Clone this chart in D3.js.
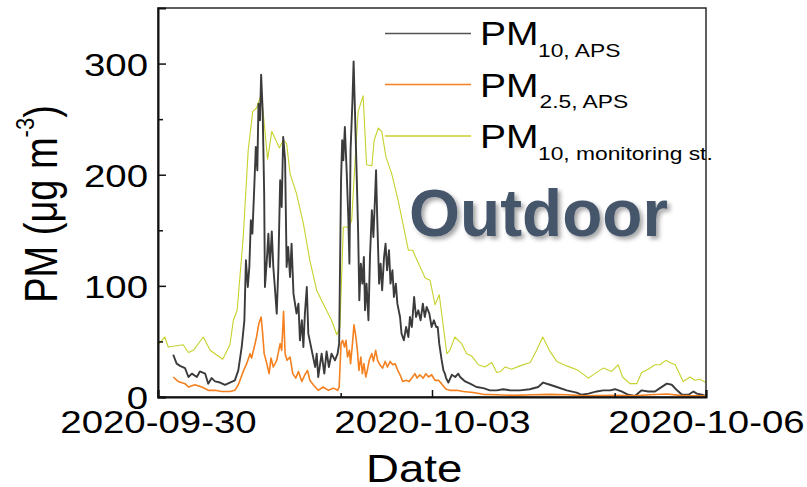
<!DOCTYPE html>
<html>
<head>
<meta charset="utf-8">
<script src="https://cdn.jsdelivr.net/npm/d3@7"></script>
<style>
  body { margin: 0; background: #fff; }
  text { font-family: "Liberation Sans", Arial, sans-serif; fill: #000; }
</style>
</head>
<body>
<svg id="chart" width="807" height="487"></svg>
<script>
// hours after 2020-09-30 00:00
var apsPm10Hours = [4.0,4.9,5.8,7.1,8.0,8.9,10.2,11.0,12.4,13.2,
  14.1,15.0,16.3,17.6,18.9,20.2,21.1,22.0,22.7,23.1,
  23.6,24.0,24.4,24.8,25.3,25.7,26.1,26.4,26.8,27.1,
  27.5,27.9,28.1,28.6,29.0,29.4,29.9,30.3,30.7,31.2,
  31.6,32.1,32.5,32.9,33.4,33.8,34.2,34.7,35.1,35.6,
  36.4,36.9,37.3,37.8,38.2,38.6,39.1,39.5,40.4,41.3,
  41.7,42.1,43.0,43.7,44.3,44.9,45.6,46.5,47.2,47.6,
  48.1,48.4,48.7,49.1,49.6,50.0,50.3,50.6,51.1,51.4,
  51.8,52.2,52.6,52.9,53.3,53.7,54.1,54.4,54.8,55.3,
  55.7,56.2,56.6,57.0,57.3,57.6,58.1,58.5,58.9,59.4,
  59.8,60.2,60.7,61.1,61.6,62.0,62.5,62.9,63.6,64.0,
  64.6,65.2,65.8,66.2,66.7,67.3,67.8,68.4,69.0,69.6,
  70.1,70.6,71.3,71.9,72.5,73.1,73.5,73.9,74.5,75.0,
  75.4,75.7,76.3,77.2,78.1,78.9,79.4,80.7,82.0,83.7,
  85.5,87.2,89.0,90.7,92.5,95.1,97.7,99.9,101.2,103.0,
  104.8,107.4,110.0,111.3,113.1,115.3,117.0,118.8,120.1,121.8,
  123.6,125.3,127.1,128.8,130.6,131.9,133.7,135.0,136.4,137.7,
  139.4,140.7,141.6,142.9,143.9];
var apsPm10 = [38,30,28,26,18,21,18,23,21,12,
  17,14,13,11,13,15,24,45,69,123,
  99,117,159,147,189,225,204,264,249,290,
  258,183,99,123,147,117,149,117,99,75,
  114,195,171,234,213,117,135,108,138,93,
  75,84,51,69,45,75,99,57,42,27,
  39,18,39,21,41,27,39,33,39,48,
  195,231,213,243,201,162,120,222,267,302,
  252,201,147,87,120,102,126,78,102,69,
  126,168,144,177,204,162,102,120,96,126,
  138,114,132,102,114,90,102,84,72,57,
  51,63,54,72,63,90,72,78,69,84,
  72,81,75,63,69,63,63,48,34,24,
  21,17,13,20,18,21,18,14,12,9,
  8,6,6,7,6,6,7,9,13,11,
  9,6,4,2,3,5,6,6,7,5,
  2,1,6,5,5,8,12,11,6,2,
  2,5,3,2,1];

var apsPm25Hours = [4.0,5.3,7.1,8.0,9.7,11.5,13.2,15.0,16.7,18.9,
  20.2,21.1,22.4,23.3,24.2,24.6,25.3,25.9,26.5,27.1,
  27.5,27.9,28.6,29.2,29.7,30.3,31.2,32.1,32.5,33.0,
  33.4,33.9,34.7,35.4,36.2,36.9,37.8,38.6,39.3,39.9,
  40.8,42.1,43.4,44.8,46.1,47.2,47.6,48.1,48.5,49.0,
  49.4,49.8,50.3,50.6,51.1,51.5,52.0,52.4,52.8,53.3,
  53.7,54.1,54.6,55.0,55.5,56.2,56.6,57.2,57.7,58.3,
  59.0,59.7,60.3,61.0,61.7,62.3,63.0,63.6,64.3,65.2,
  66.0,66.9,67.5,68.1,68.8,69.7,70.4,71.1,71.9,72.8,
  73.7,74.5,75.7,76.7,78.5,80.2,82.8,85.5,89.0,93.4,
  98.6,103.0,107.4,111.8,116.1,120.5,124.9,129.3,133.7,137.2,
  140.6,144.0];
var apsPm25 = [18,14,12,9,11,9,6,6,5,5,
  6,11,23,30,39,35,45,54,66,72,
  57,39,30,21,35,27,33,48,42,77,
  39,33,36,21,17,23,14,20,24,15,
  11,6,9,6,8,6,9,48,51,45,
  51,36,42,30,48,65,54,42,24,36,
  21,30,18,24,33,39,32,42,33,29,
  26,32,27,32,29,30,24,20,14,15,
  14,18,21,17,20,17,21,18,20,15,
  15,12,7,6,6,5,4,2.4,2,1.5,
  2,2.4,2,1,1.2,1.5,1,2,2.7,1.5,
  1,1];

var stationHours = [0,1.8,2.7,6.6,8.0,9.3,11.9,13.7,17.0,18.9,
  19.8,20.8,22.4,23.7,24.9,25.9,27.1,27.7,28.8,29.9,
  31.9,32.9,33.8,34.7,36.4,38.2,39.9,41.7,43.4,45.6,
  47.0,47.8,48.7,50.2,50.9,51.8,52.6,53.9,54.8,56.2,
  56.8,57.9,58.8,59.9,61.4,63.1,65.8,66.9,70.2,71.5,
  72.8,73.9,75.9,76.7,78.0,79.8,81.1,82.4,84.2,85.9,
  87.7,89.0,90.1,91.2,92.9,95.1,97.8,99.5,101.1,103.0,
  104.8,107.4,110.4,113.1,114.8,117.0,119.2,120.9,122.1,124.0,
  125.8,127.1,128.8,130.6,131.9,133.5,134.5,135.9,138.0,139.8,
  141.1,142.4,144.0];
var stationPm10 = [47,54,45,47,40,42,54,42,34,47,
  69,78,144,222,257,260,272,254,214,239,
  224,231,228,201,183,156,123,96,84,69,
  56,63,153,153,159,213,257,271,209,208,
  231,242,239,216,201,177,132,132,107,105,
  83,92,39,42,54,48,39,37,29,27,
  31,22,23,27,25,28,31,42,54,41,
  32,28,24,17,21,26,23,29,18,12,
  12,22,25,29,29,33,31,29,14,18,
  15,16,13];

var majorDates = ["2020-09-30", "2020-10-03", "2020-10-06"];
var minorDates = ["2020-10-02", "2020-10-05"];
var majorY = [0, 100, 200, 300];
var minorY = [50, 150, 250];

var SX = 1.2; // the reference text is stretched horizontally

var svg = d3.select("#chart");
svg.append("rect").attr("width", 807).attr("height", 487).attr("fill", "#fff");

var parseDay = d3.timeParse("%Y-%m-%d");
var t0 = parseDay("2020-09-30");
function toDate(h) { return new Date(t0.getTime() + h * 3600e3); }

var plotL = 158, plotR = 706, plotT = 8, plotB = 397;

var x = d3.scaleTime()
    .domain([t0, parseDay("2020-10-06")])
    .range([plotL, plotR]);
var y = d3.scaleLinear()
    .domain([0, 350])
    .range([plotB, plotT]);

var defs = svg.append("defs");
defs.append("clipPath").attr("id", "plotclip")
  .append("rect").attr("x", plotL).attr("y", plotT)
    .attr("width", plotR - plotL).attr("height", plotB - plotT);

var line = d3.line()
    .x(function(d) { return x(toDate(d[0])); })
    .y(function(d) { return y(d[1]); });

function pairs(hours, vals) { return hours.map(function(h, i) { return [h, vals[i]]; }); }

var series = [
  { data: pairs(stationHours, stationPm10), color: "#c6d22c", width: 1.1 },
  { data: pairs(apsPm10Hours, apsPm10), color: "#3b3b3b", width: 1.9 },
  { data: pairs(apsPm25Hours, apsPm25), color: "#f4801f", width: 1.6 }
];

var plot = svg.append("g").attr("clip-path", "url(#plotclip)");
series.forEach(function(s) {
  plot.append("path")
      .datum(s.data)
      .attr("fill", "none")
      .attr("stroke", s.color)
      .attr("stroke-width", s.width)
      .attr("stroke-linejoin", "round")
      .attr("d", line);
});

/* legend */
var legendRows = [
  { sub: "10, APS", color: "#555", width: 1.6, ly: 33.5, pm: 45, sy: 57, sx: 538 },
  { sub: "2.5, APS", color: "#f4801f", width: 1.6, ly: 84.5, pm: 96.7, sy: 108.3, sx: 539.5 },
  { sub: "10, monitoring st.", color: "#c6d22c", width: 1.3, ly: 136, pm: 148.3, sy: 160, sx: 538 }
];
var legend = svg.append("g");
legendRows.forEach(function(r) {
  legend.append("line")
      .attr("x1", 385).attr("x2", 471)
      .attr("y1", r.ly).attr("y2", r.ly)
      .attr("stroke", r.color).attr("stroke-width", r.width);
  legend.append("text")
      .attr("transform", "translate(480," + r.pm + ") scale(" + SX + ",1)")
      .attr("font-size", 32.5)
      .text("PM");
  legend.append("text")
      .attr("transform", "translate(" + r.sx + "," + r.sy + ") scale(" + SX + ",1)")
      .attr("font-size", 19)
      .text(r.sub);
});

// Outdoor label with soft shadow
var f = defs.append("filter").attr("id", "shadow")
    .attr("x", "-10%").attr("y", "-20%").attr("width", "130%").attr("height", "150%");
f.append("feDropShadow").attr("dx", 3).attr("dy", 3).attr("stdDeviation", 2)
    .attr("flood-color", "#000").attr("flood-opacity", 0.35);

svg.append("text")
    .attr("x", 409).attr("y", 236)
    .attr("font-family", "Lato, 'Open Sans', sans-serif")
    .attr("font-weight", 700)
    .attr("font-size", 67)
    .attr("textLength", 259)
    .attr("lengthAdjust", "spacingAndGlyphs")
    .attr("filter", "url(#shadow)")
    .style("fill", "#44546a")
    .text("Outdoor");

/* frame */
svg.append("rect")
    .attr("x", plotL).attr("y", plotT)
    .attr("width", plotR - plotL).attr("height", plotB - plotT)
    .attr("fill", "none").attr("stroke", "#2a2a2a").attr("stroke-width", 1.5);

/* axes */
var fmt = d3.timeFormat("%Y-%m-%d");
var gx = svg.append("g").attr("transform", "translate(0," + plotB + ")");
gx.call(d3.axisBottom(x)
    .tickValues(majorDates.map(parseDay))
    .tickSize(-7)
    .tickFormat(fmt));
gx.call(function(g) {
  g.select(".domain").attr("stroke", "#111").attr("stroke-width", 2);
  g.selectAll(".tick line").attr("stroke", "#111").attr("stroke-width", 1.5);
  g.selectAll(".tick text")
      .attr("y", null).attr("dy", null)
      .attr("font-size", 32)
      .attr("font-family", "'Liberation Sans', Arial, sans-serif")
      .attr("transform", "translate(0,36) scale(" + SX + ",1)");
});
var gxMinor = svg.append("g").attr("transform", "translate(0," + plotB + ")");
gxMinor.call(d3.axisBottom(x)
    .tickValues(minorDates.map(parseDay))
    .tickSize(-4)
    .tickFormat(""));
gxMinor.select(".domain").remove();
gxMinor.selectAll(".tick line").attr("stroke", "#111").attr("stroke-width", 1.5);

var gy = svg.append("g").attr("transform", "translate(" + plotL + ",0)");
gy.call(d3.axisLeft(y)
    .tickValues(majorY)
    .tickSize(-8)
    .tickFormat(d3.format("d")));
gy.call(function(g) {
  g.select(".domain").attr("stroke", "#111").attr("stroke-width", 2);
  g.selectAll(".tick line").attr("stroke", "#111").attr("stroke-width", 1.5);
  g.selectAll(".tick text")
      .attr("x", null).attr("dy", null)
      .attr("font-size", 32)
      .attr("font-family", "'Liberation Sans', Arial, sans-serif")
      .attr("transform", "translate(-10,11.5) scale(" + SX + ",1)");
});
var gyMinor = svg.append("g").attr("transform", "translate(" + plotL + ",0)");
gyMinor.call(d3.axisLeft(y)
    .tickValues(minorY)
    .tickSize(-5)
    .tickFormat(""));
gyMinor.select(".domain").remove();
gyMinor.selectAll(".tick line").attr("stroke", "#111").attr("stroke-width", 1.5);

/* axis titles */
svg.append("text")
    .attr("transform", "translate(366,482) scale(" + SX + ",1)")
    .attr("font-size", 38)
    .text("Date");

var ylab = svg.append("text")
    .attr("transform", "translate(57,204) scale(" + SX + ",1) rotate(-90)")
    .attr("text-anchor", "middle")
    .attr("font-size", 38);
ylab.append("tspan").text("PM (\u03bcg m");
ylab.append("tspan").attr("font-size", 22).attr("dy", -19).text("-3");
ylab.append("tspan").attr("dy", 19).text(")");
</script>
</body>
</html>
